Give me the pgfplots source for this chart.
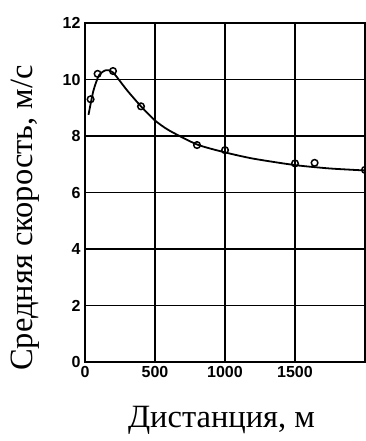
\documentclass[border=0pt]{standalone}
\usepackage{fontspec}
\setmainfont{Liberation Serif}
\newfontfamily\tickfont{Liberation Sans}
\usepackage{pgfplots}
\pgfplotsset{compat=1.18}
\begin{document}
\begin{tikzpicture}
\begin{axis}[
  name=ax,
  scale only axis,
  width=280pt, height=339pt,
  xmin=0, xmax=2000, ymin=0, ymax=12,
  xtick={0,500,1000,1500,2000},
  xticklabels={0,500,1000,1500,},
  ytick={0,2,4,6,8,10,12},
  grid=major,
  major grid style={black, line width=1.8pt},
  axis line style={black, line width=2pt},
  tick style={draw=none},
  /pgf/number format/assume math mode=true,
  ticklabel style={font=\tickfont\bfseries\fontsize{16}{18}\selectfont},
  yticklabel style={xshift=-1pt},
  xticklabel style={yshift=-1pt},
  xlabel={Дистанция, м},
  ylabel={Средняя скорость, м/с},
  xlabel style={font=\fontsize{32.5}{36}\selectfont, at={(axis description cs:0.4875,-0.171)}, anchor=center},
  ylabel style={font=\fontsize{32.5}{36}\selectfont, at={(axis description cs:-0.214,0.425)}, anchor=center},
  clip=false,
]
\addplot[black, line width=1.8pt, smooth, tension=0.4] coordinates {
 (25,8.75) (60,9.6) (100,10.15) (150,10.33) (200,10.25) (300,9.62) (400,9.05) (500,8.55)
 (600,8.2) (800,7.7) (1000,7.42) (1200,7.2) (1500,6.97) (1750,6.85) (2000,6.78)
};
\addplot[only marks, mark=o, mark size=3.3pt, black, line width=1.5pt, mark options={fill=white}] coordinates {
 (40,9.3) (90,10.2) (200,10.3) (400,9.05) (800,7.68) (1000,7.5) (1500,7.03) (1640,7.05) (2000,6.8)
};
\end{axis}
\pgfresetboundingbox
\path ([shift={(-85pt,-79pt)}]ax.south west) rectangle ([shift={(1pt,23pt)}]ax.north east);
\end{tikzpicture}
\end{document}
